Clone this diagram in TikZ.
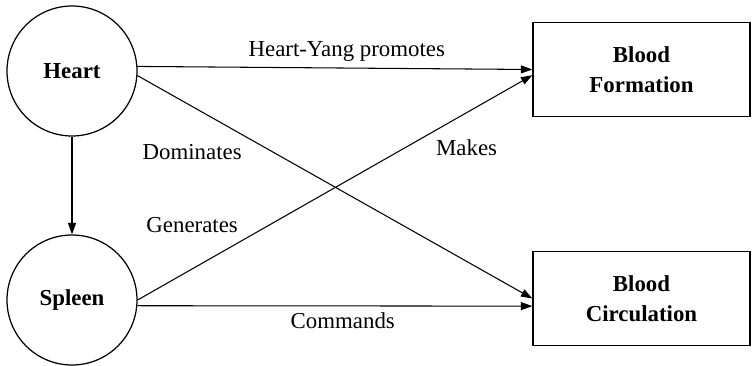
\documentclass[tikz,border=0pt]{standalone}
\usepackage{fontspec}
\setmainfont{Liberation Serif}
\usetikzlibrary{arrows.meta}

\begin{document}
\begin{tikzpicture}[
  organ/.style={circle, draw, line width=0.7pt, minimum size=2.6cm, inner sep=0pt, font=\fontsize{13}{17}\selectfont\bfseries},
  blood/.style={rectangle, draw, line width=0.7pt, text centered, align=center, minimum width=4.34cm, minimum height=1.88cm, font=\fontsize{13}{17}\selectfont\bfseries},
  arrow/.style={-{Triangle[length=6.5pt,width=4.5pt]}, line width=0.6pt},
  tag/.style={font=\fontsize{13}{17}\selectfont}
]
\useasboundingbox (0,0) rectangle (15.04,7.3);

% Organs
\node[organ] (heart) at (1.44, 5.88) {Heart};
\node[organ] (spleen) at (1.44, 1.3) {Spleen};

% Blood functions
\node[blood] (formation) at (12.83, 5.91) {Blood\\Formation};
\node[blood] (circulation) at (12.83, 1.33) {Blood\\Circulation};

% Arrows
\draw[arrow] (heart) -- (spleen);
\draw[arrow] (heart.4) -- node[tag, above, pos=0.53] (promotes) {Heart-Yang promotes} (formation.west);
\draw[arrow] (heart.356) -- node[tag, below left, pos=0.28] (dominates) {Dominates} (circulation.west);
\draw[arrow] (spleen.east) --
  node[tag, above left, pos=0.27] (generates) {Generates}
  node[tag, below right, pos=0.74] (makes) {Makes} (formation.183);
\draw[arrow] (spleen.355) -- node[tag, below, pos=0.52] (commands) {Commands} (circulation.184);

\end{tikzpicture}
\end{document}
